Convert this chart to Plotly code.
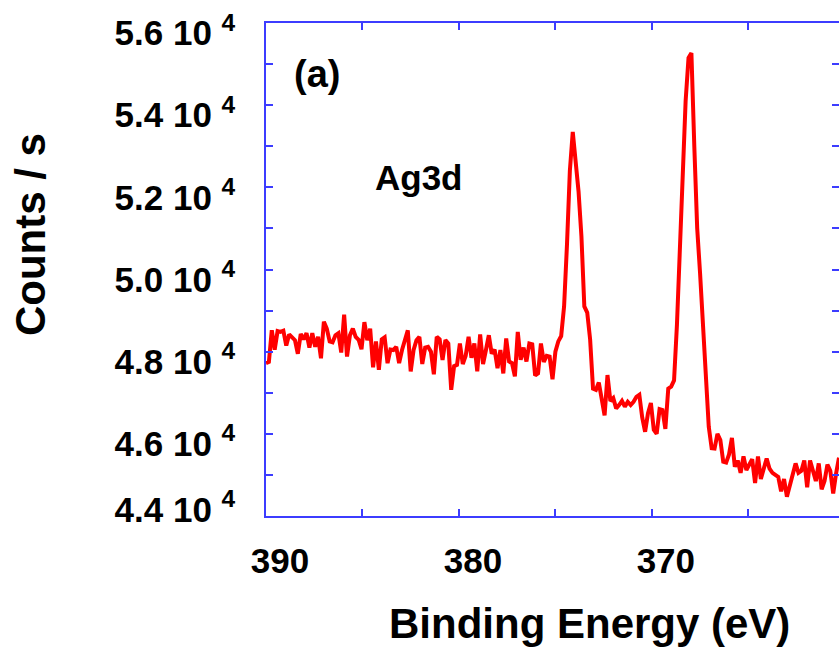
import plotly.graph_objects as go

counts = [
    47720, 47750, 48520, 48050, 48500, 48480, 48510, 48150, 48420, 48350,
    48280, 47950, 48430, 48300, 48450, 48100, 48450, 48120, 48360, 47840,
    48730, 48560, 48250, 48230, 48400, 48450, 47980, 48900, 47880, 48400,
    48560, 48360, 48290, 48060, 48720, 48280, 48560, 47620, 48250, 47560,
    48300, 48350, 47720, 48050, 48040, 48120, 47720, 48040, 48280, 48520,
    47520, 48040, 48280, 48360, 47700, 48100, 48120, 48000, 47450, 48360,
    48300, 47800, 48280, 48200, 47070, 47650, 47680, 48200, 47700, 47900,
    48360, 47850, 48200, 47520, 48420, 47700, 48040, 48400, 47950, 48050,
    47600, 48040, 47470, 48320, 47760, 47720, 47400, 48480, 47800, 48100,
    47760, 48200, 48180, 47420, 47470, 48200, 47750, 47900, 47880, 47330,
    48000, 48250, 48380, 49100, 50600, 52400, 53350, 52600, 51900, 50800,
    49100, 48950, 48300, 47100, 47070, 47250, 46830, 46450, 47430, 46800,
    46870, 46620, 46700, 46800, 46660, 46780, 46700, 46780, 46900, 46950,
    46400, 46050, 46500, 46750, 46100, 46000, 46600, 46580, 46120, 47100,
    47150, 47300, 48650, 50300, 52100, 54100, 55150, 55270, 53000, 51000,
    49900, 48690, 47300, 46170, 45650, 45640, 46000, 45850, 45320, 45300,
    45500, 45900, 45200, 45350, 45050, 45450, 45120, 45250, 45380, 44800,
    45450, 44900, 45200, 45400, 45150, 45050, 45000, 44950, 44600, 44900,
    44470, 44720, 45050, 45280, 45050, 45100, 45350, 44700, 45350, 45080,
    44850, 45280, 44650, 44850, 45250, 45100, 44550, 45040, 45420,
]
energy_start = 390.0
energy_step = 0.15
energy = [round(energy_start - energy_step * i, 2) for i in range(len(counts))]

x_range = [390, 360.3]
x_tick_vals = [390, 385, 380, 375, 370, 365]
x_tick_text = ["390", "", "380", "", "370", ""]

y_range = [44000, 56000]
y_tick_marks = [44000, 45000, 46000, 47000, 48000, 49000, 50000,
                51000, 52000, 53000, 54000, 55000, 56000]
# label anchors (the lowest label sits slightly above the axis corner in the reference)
y_label_vals = [44400, 46000, 48000, 50000, 52000, 54000, 56000]
y_label_text = ["4.4 10 <sup>4</sup>", "4.6 10 <sup>4</sup>", "4.8 10 <sup>4</sup>",
                "5.0 10 <sup>4</sup>", "5.2 10 <sup>4</sup>", "5.4 10 <sup>4</sup>",
                "5.6 10 <sup>4</sup>"]

FONT = "Liberation Sans, Arial, sans-serif"
AXIS_BLUE = "#3c3cff"

fig = go.Figure()
fig.add_trace(go.Scatter(
    x=energy, y=counts, mode="lines",
    line=dict(color="#ff0000", width=4),
    showlegend=False,
))

axis_common = dict(
    showline=True, linecolor=AXIS_BLUE, linewidth=1.5,
    mirror="ticks", showgrid=False, zeroline=False, automargin=False,
    ticklabeloverflow="allow",
    tickfont=dict(family=FONT, size=35, color="black", weight="bold"),
)

fig.update_xaxes(range=x_range, tickmode="array", tickvals=x_tick_vals,
                 ticktext=x_tick_text, ticklabelstandoff=13, ticklabelshift=-14,
                 ticks="inside", ticklen=7, tickwidth=1.5, tickcolor=AXIS_BLUE,
                 **axis_common)
fig.update_yaxes(range=y_range, tickmode="array", tickvals=y_label_vals,
                 ticktext=y_label_text, ticklabelstandoff=22, ticklabelshift=10,
                 ticks="inside", ticklen=0, tickwidth=0, tickcolor="rgba(0,0,0,0)",
                 minor=dict(tickmode="array", tickvals=y_tick_marks, ticks="inside",
                            ticklen=7, tickwidth=1.5, tickcolor=AXIS_BLUE, showgrid=False),
                 **axis_common)

fig.update_layout(
    width=839, height=650,
    margin=dict(l=266, r=0, t=23, b=134),
    paper_bgcolor="white", plot_bgcolor="white",
    annotations=[
        dict(text="(a)", xref="paper", yref="paper", x=0.089, y=0.8966,
             xanchor="center", yanchor="middle", showarrow=False,
             font=dict(family=FONT, size=38, color="black", weight="bold")),
        dict(text="Ag3d", xref="paper", yref="paper", x=0.267, y=0.6856,
             xanchor="center", yanchor="middle", showarrow=False,
             font=dict(family=FONT, size=35, color="black", weight="bold")),
        dict(text="Binding Energy (eV)", xref="paper", yref="paper", x=0.565, y=-0.219,
             xanchor="center", yanchor="middle", showarrow=False,
             font=dict(family=FONT, size=42, color="black", weight="bold")),
        dict(text="Counts / s", xref="paper", yref="paper", x=-0.41, y=0.570,
             xanchor="center", yanchor="middle", showarrow=False, textangle=-90,
             font=dict(family=FONT, size=42, color="black", weight="bold")),
    ],
)

fig.write_html("out.html", config={"displayModeBar": False},
               post_script="document.body.style.margin='0';document.body.style.overflow='hidden';")
